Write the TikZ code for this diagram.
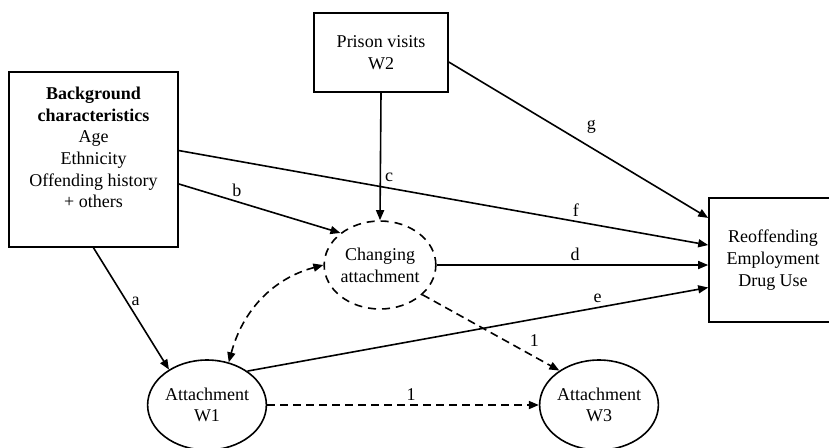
\documentclass[tikz,border=0pt]{standalone}
\usepackage{fontspec}
\setmainfont{Liberation Serif}
\usetikzlibrary{shapes.geometric,arrows.meta}

\begin{document}
\begin{tikzpicture}[x=0.5pt,y=-0.5pt,
	font=\fontsize{9}{10.85}\selectfont,
	box/.style={draw,line width=0.8pt,align=center,inner sep=0pt},
	oval/.style={draw,ellipse,line width=0.8pt,align=center,inner sep=0pt,minimum width=52pt,minimum height=45pt},
	arr/.style={line width=0.8pt,-{Triangle[length=5pt,width=4pt]}},
	darr/.style={arr,dash pattern=on 4pt off 2.5pt},
	lbl/.style={inner sep=2pt}]
	\useasboundingbox (0,0) rectangle (829,447);
	% boxes and ovals
	\node[box,minimum width=84.5pt,minimum height=87.5pt] (bg) at (93.5,159.5) {};
	\node[align=center,inner sep=0pt] (bgtext) at (93.5,147.5) {\textbf{Background}\\\textbf{characteristics}\\Age\\Ethnicity\\Offending history\\+ others};
	\node[box,minimum width=67pt,minimum height=39.5pt] (pv) at (381,52.5) {Prison visits\\W2};
	\node[box,minimum width=64pt,minimum height=62pt] (out) at (773,260) {Reoffending\\Employment\\Drug Use};
	\node[oval,minimum width=53pt,minimum height=44pt,dash pattern=on 4pt off 3pt] (ch) at (380,265) {Changing\\attachment};
	\node[oval] (w1) at (207,405) {Attachment\\W1};
	\node[oval] (w3) at (599,405) {Attachment\\W3};
	% paths
	\draw[arr] (bg.south) -- node[lbl,pos=0.44,right] {a} (w1.137);
	\draw[arr] (bg.-16) -- node[lbl,pos=0.36,above] {b} (ch.141);
	\draw[arr] (pv.south) -- node[lbl,pos=0.66,right] {c} (ch.north);
	\draw[arr] (ch.east) -- node[lbl,pos=0.51,above] {d} (ch.east -| out.west);
	\draw[arr] (w1.40) -- node[lbl,pos=0.76,above] {e} (out.203);
	\draw[arr] (bg.6) -- node[lbl,pos=0.75,above] {f} (out.167);
	\draw[arr] (pv.-8) -- node[lbl,pos=0.55,above=5pt] {g} (out.147);
	% dashed paths
	\draw[darr,{Triangle[length=5pt,width=4pt]}-{Triangle[length=5pt,width=4pt]}] (w1.63) to[out=75,in=195] (ch.west);
	\draw[darr] (ch.-35) -- node[lbl,pos=0.75,above right] {1} (w3.139);
	\draw[darr] (w1.east) -- node[lbl,pos=0.53,above] {1} (w3.west);
\end{tikzpicture}
\end{document}
